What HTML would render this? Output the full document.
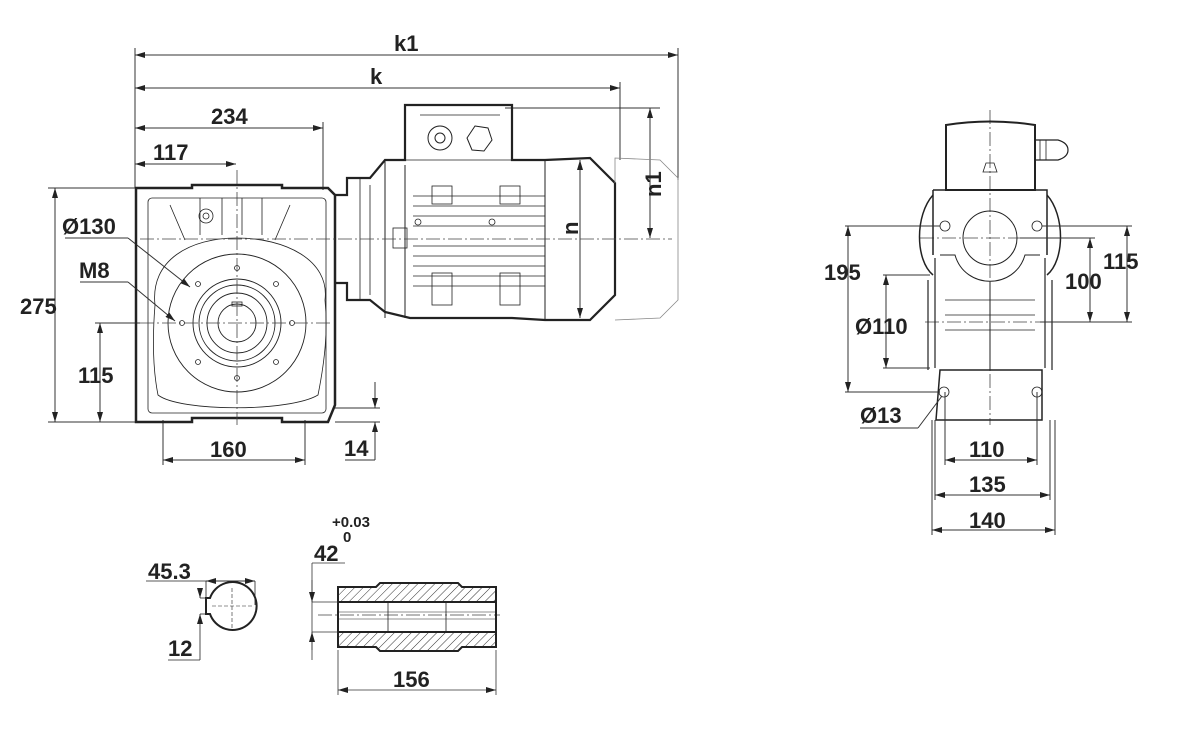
<!DOCTYPE html>
<html><head><meta charset="utf-8"><style>
html,body{margin:0;padding:0;background:#fff}
svg{display:block}
text{font-family:"Liberation Sans",sans-serif;font-weight:bold;fill:#222}
</style></head><body>
<svg width="1199" height="729" viewBox="0 0 1199 729" xmlns="http://www.w3.org/2000/svg">
<defs>
<marker id="a" viewBox="0 0 10 6" refX="10" refY="3" markerWidth="10" markerHeight="6" orient="auto-start-reverse" markerUnits="userSpaceOnUse"><path d="M0,0 L10,3 L0,6 z" fill="#222"/></marker>
<pattern id="h" width="6" height="6" patternUnits="userSpaceOnUse" patternTransform="rotate(45)"><line x1="0" y1="0" x2="0" y2="6" stroke="#333" stroke-width="1"/></pattern>
</defs>
<g stroke="#333" fill="none" stroke-width="1">
<line x1="135" y1="55" x2="678" y2="55" marker-start="url(#a)" marker-end="url(#a)"/>
<line x1="135" y1="88" x2="620" y2="88" marker-start="url(#a)" marker-end="url(#a)"/>
<line x1="135" y1="128" x2="323" y2="128" marker-start="url(#a)" marker-end="url(#a)"/>
<line x1="135" y1="164" x2="236" y2="164" marker-start="url(#a)" marker-end="url(#a)"/>
<line x1="135" y1="48" x2="135" y2="188"/>
<line x1="678" y1="48" x2="678" y2="180"/>
<line x1="620" y1="82" x2="620" y2="160"/>
<line x1="323" y1="122" x2="323" y2="190"/>
<line x1="505" y1="108" x2="660" y2="108"/>
<line x1="650" y1="108" x2="650" y2="238" marker-start="url(#a)" marker-end="url(#a)"/>
<line x1="580" y1="160" x2="580" y2="318" marker-start="url(#a)" marker-end="url(#a)"/>
<line x1="48" y1="188" x2="136" y2="188"/>
<line x1="48" y1="422" x2="136" y2="422"/>
<line x1="55" y1="188" x2="55" y2="422" marker-start="url(#a)" marker-end="url(#a)"/>
<line x1="100" y1="323" x2="100" y2="422" marker-start="url(#a)" marker-end="url(#a)"/>
<line x1="95" y1="323" x2="140" y2="323"/>
<line x1="163" y1="420" x2="163" y2="465"/>
<line x1="305" y1="420" x2="305" y2="465"/>
<line x1="163" y1="460" x2="305" y2="460" marker-start="url(#a)" marker-end="url(#a)"/>
<line x1="335" y1="408" x2="380" y2="408"/>
<line x1="375" y1="382" x2="375" y2="408" marker-end="url(#a)"/>
<line x1="375" y1="422" x2="375" y2="460" marker-start="url(#a)"/>
<line x1="335" y1="422" x2="380" y2="422"/>
<line x1="345" y1="460" x2="375" y2="460"/>
<line x1="65" y1="238" x2="128" y2="238"/>
<line x1="128" y1="238" x2="190" y2="287" marker-end="url(#a)"/>
<line x1="80" y1="282" x2="128" y2="282"/>
<line x1="128" y1="282" x2="175" y2="321" marker-end="url(#a)"/>
</g>
<g stroke="#222" fill="none">
<path d="M136,188 H192 V185 H282 V188 H328 L335,195 V405 L328,422 H282 V418 H192 V422 H136 Z" stroke-width="2.5"/>
<rect x="148" y="198" width="178" height="215" rx="4" stroke-width="0.8"/>
<path d="M170,205 L185,240 M290,205 L275,240" stroke-width="0.8"/>
<path d="M200,198 V235 M222,198 V235 M242,198 V235 M262,198 V235" stroke-width="0.8"/>
<circle cx="206" cy="216" r="7" stroke-width="0.8"/><circle cx="206" cy="216" r="3" stroke-width="0.8"/>
<path d="M155,305 C150,260 190,238 237,238 C285,238 330,260 325,300 C328,330 325,360 318,395 C290,412 180,412 158,395 C152,365 153,330 155,305 Z" stroke-width="0.8"/>
<circle cx="237" cy="323" r="69" stroke-width="0.9"/>
<circle cx="237" cy="323" r="44" stroke-width="0.9"/>
<circle cx="237" cy="323" r="38" stroke-width="0.9"/>
<circle cx="237" cy="323" r="30" stroke-width="0.9"/>
<circle cx="237" cy="323" r="19" stroke-width="0.9"/>
<rect x="232" y="302" width="10" height="4" stroke-width="0.8"/>
<g stroke-width="0.8">
<circle cx="237" cy="268" r="2.5"/><circle cx="237" cy="378" r="2.5"/>
<circle cx="182" cy="323" r="2.5"/><circle cx="292" cy="323" r="2.5"/>
<circle cx="198" cy="284" r="2.5"/><circle cx="276" cy="284" r="2.5"/>
<circle cx="198" cy="362" r="2.5"/><circle cx="276" cy="362" r="2.5"/>
</g>
<path d="M335,195 H347 V178 H370 L385,160 H405 V105 H512 V160 H545 L590,158 L615,183 V295 L590,320 H545 L512,318 H410 L385,312 L370,300 H347 V283 H335" stroke-width="2.2"/>
<path d="M385,160 V318 M405,165 V318 M545,160 V320" stroke-width="1"/>
<path d="M405,160 H512 M420,115 H500" stroke-width="0.8"/>
<circle cx="440" cy="138" r="12" stroke-width="1"/><circle cx="440" cy="138" r="5" stroke-width="1"/>
<path d="M475,126 L488,128 L492,140 L484,151 L472,150 L467,138 Z" stroke-width="1"/>
<g stroke-width="0.8">
<line x1="413" y1="196" x2="545" y2="196"/><line x1="413" y1="206" x2="545" y2="206"/>
<line x1="413" y1="216" x2="545" y2="216"/><line x1="413" y1="226" x2="545" y2="226"/>
<line x1="413" y1="246" x2="545" y2="246"/><line x1="413" y1="256" x2="545" y2="256"/>
<line x1="413" y1="266" x2="545" y2="266"/><line x1="413" y1="276" x2="545" y2="276"/>
<line x1="413" y1="286" x2="545" y2="286"/>
<rect x="432" y="186" width="20" height="18"/><rect x="500" y="186" width="20" height="18"/>
<rect x="432" y="273" width="20" height="32"/><rect x="500" y="273" width="20" height="32"/>
<rect x="393" y="228" width="14" height="20"/>
<path d="M360,178 V300 M370,185 V295"/>
<circle cx="418" cy="222" r="3"/><circle cx="492" cy="222" r="3"/>
</g>
<path d="M615,183 V158 L660,160 L678,178 V300 L660,318 L615,320" stroke="#888" stroke-width="0.8"/>
</g>
<g stroke="#444" stroke-width="0.8" stroke-dasharray="14,3,2,3" fill="none">
<line x1="140" y1="239" x2="672" y2="239"/>
<line x1="140" y1="323" x2="330" y2="323"/>
<line x1="237" y1="170" x2="237" y2="425"/>
<line x1="990" y1="110" x2="990" y2="425"/>
<line x1="920" y1="238" x2="1090" y2="238"/>
<line x1="925" y1="322" x2="1055" y2="322"/>
<line x1="318" y1="615" x2="500" y2="615"/>
</g>
<g stroke="#222" fill="none">
<path d="M946,125 Q990,118 1035,125 V190 H946 Z" stroke-width="2"/>
<path d="M1035,140 H1058 Q1068,143 1068,150 Q1068,157 1058,160 H1035" stroke-width="1.2"/>
<path d="M1040,140 V160 M1046,140 V160" stroke-width="0.8"/>
<path d="M933,190 H1047 V255 M933,190 V255" stroke-width="1.5"/>
<path d="M933,195 C915,215 915,260 933,275" stroke-width="1.5"/>
<path d="M1047,195 C1065,215 1065,260 1047,275" stroke-width="1.5"/>
<circle cx="990" cy="238" r="27" stroke-width="1"/>
<path d="M940,255 H955 C965,290 1015,290 1025,255 H1040" stroke-width="1"/>
<path d="M928,280 V370 M1052,280 V370 M935,258 V368 M1045,258 V368" stroke-width="1.2"/>
<path d="M940,370 H1042 V420 H936 Z" stroke-width="1.5"/>
<path d="M945,300 H1035 M945,315 H1035 M945,330 H1035" stroke-width="0.8"/>
<path d="M990,282 V370" stroke-width="1"/>
<circle cx="945" cy="226" r="5" stroke-width="0.8"/><circle cx="1037" cy="226" r="5" stroke-width="0.8"/>
<circle cx="944" cy="392" r="5" stroke-width="0.8"/><circle cx="1037" cy="392" r="5" stroke-width="0.8"/>
<path d="M983,172 H997 L994,163 H986 Z" stroke-width="0.8"/>
</g>
<g stroke="#333" fill="none" stroke-width="1">
<line x1="845" y1="226" x2="940" y2="226"/><line x1="845" y1="392" x2="940" y2="392"/>
<line x1="848" y1="226" x2="848" y2="392" marker-start="url(#a)" marker-end="url(#a)"/>
<line x1="883" y1="275" x2="930" y2="275"/><line x1="883" y1="368" x2="930" y2="368"/>
<line x1="886" y1="275" x2="886" y2="368" marker-start="url(#a)" marker-end="url(#a)"/>
<line x1="1042" y1="226" x2="1132" y2="226"/>
<line x1="1040" y1="322" x2="1132" y2="322"/>
<line x1="1020" y1="238" x2="1095" y2="238"/>
<line x1="1090" y1="238" x2="1090" y2="322" marker-start="url(#a)" marker-end="url(#a)"/>
<line x1="1127" y1="226" x2="1127" y2="322" marker-start="url(#a)" marker-end="url(#a)"/>
<line x1="860" y1="428" x2="918" y2="428"/><line x1="918" y1="428" x2="942" y2="396"/>
<line x1="945" y1="392" x2="945" y2="465"/><line x1="1037" y1="392" x2="1037" y2="465"/>
<line x1="945" y1="460" x2="1037" y2="460" marker-start="url(#a)" marker-end="url(#a)"/>
<line x1="935" y1="420" x2="935" y2="500"/><line x1="1050" y1="420" x2="1050" y2="500"/>
<line x1="935" y1="495" x2="1050" y2="495" marker-start="url(#a)" marker-end="url(#a)"/>
<line x1="932" y1="420" x2="932" y2="535"/><line x1="1055" y1="420" x2="1055" y2="535"/>
<line x1="932" y1="530" x2="1055" y2="530" marker-start="url(#a)" marker-end="url(#a)"/>
</g>
<g stroke="#222" fill="none">
<path d="M210,598 A24,24 0 1 1 210,614 H206 V598 Z" stroke-width="2"/>
<path d="M146,581 H255 M206,581 V598 M255,581 V605" stroke-width="0.8"/>
<line x1="206" y1="581" x2="255" y2="581" stroke-width="0.8" marker-start="url(#a)" marker-end="url(#a)"/>
<line x1="200" y1="588" x2="200" y2="598" stroke-width="0.8" marker-end="url(#a)"/>
<line x1="200" y1="614" x2="200" y2="660" stroke-width="0.8" marker-start="url(#a)"/>
<line x1="200" y1="598" x2="206" y2="598" stroke-width="0.8"/>
<line x1="200" y1="614" x2="206" y2="614" stroke-width="0.8"/>
<line x1="168" y1="660" x2="200" y2="660" stroke-width="0.8"/>
<line x1="232" y1="588" x2="232" y2="630" stroke-width="0.6" stroke-dasharray="4,2"/>
<line x1="212" y1="606" x2="252" y2="606" stroke-width="0.6" stroke-dasharray="4,2"/>
</g>
<g stroke="#222">
<path d="M338,587 H376 L380,583 H458 L462,587 H496 V602 H338 Z" fill="url(#h)" stroke-width="2"/>
<path d="M338,632 H496 V647 H462 L458,651 H380 L376,647 H338 Z" fill="url(#h)" stroke-width="2"/>
<path d="M338,602 V632 M496,602 V632" stroke-width="2" fill="none"/>
<path d="M388,602 V632 M446,602 V632" stroke-width="0.8" fill="none"/>
<path d="M338,612 H496 M338,619 H496" stroke-width="0.6" fill="none"/>
</g>
<g stroke="#333" fill="none" stroke-width="0.8">
<line x1="312" y1="563" x2="345" y2="563"/>
<line x1="312" y1="563" x2="312" y2="660"/>
<line x1="312" y1="602" x2="338" y2="602"/><line x1="312" y1="632" x2="338" y2="632"/>
<line x1="312" y1="580" x2="312" y2="602" marker-end="url(#a)"/>
<line x1="312" y1="632" x2="312" y2="650" marker-start="url(#a)"/>
<line x1="338" y1="650" x2="338" y2="695"/><line x1="496" y1="650" x2="496" y2="695"/>
<line x1="338" y1="690" x2="496" y2="690" marker-start="url(#a)" marker-end="url(#a)"/>
</g>
<g font-size="22">
<text x="394" y="51">k1</text>
<text x="370" y="84">k</text>
<text x="211" y="124">234</text>
<text x="153" y="160">117</text>
<text x="62" y="234">Ø130</text>
<text x="79" y="278">M8</text>
<text x="20" y="314">275</text>
<text x="78" y="383">115</text>
<text x="210" y="457">160</text>
<text x="344" y="456">14</text>
<text x="0" y="0" transform="translate(578,235) rotate(-90)">n</text>
<text x="0" y="0" transform="translate(661,197) rotate(-90)">n1</text>
<text x="824" y="280">195</text>
<text x="855" y="334">Ø110</text>
<text x="1065" y="289">100</text>
<text x="1103" y="269">115</text>
<text x="860" y="423">Ø13</text>
<text x="969" y="457">110</text>
<text x="969" y="492">135</text>
<text x="969" y="528">140</text>
<text x="148" y="579">45.3</text>
<text x="168" y="656">12</text>
<text x="314" y="561">42</text>
<text x="393" y="687">156</text>
</g>
<text x="332" y="527" font-size="15">+0.03</text>
<text x="343" y="542" font-size="15">0</text>
</svg>
</body></html>
